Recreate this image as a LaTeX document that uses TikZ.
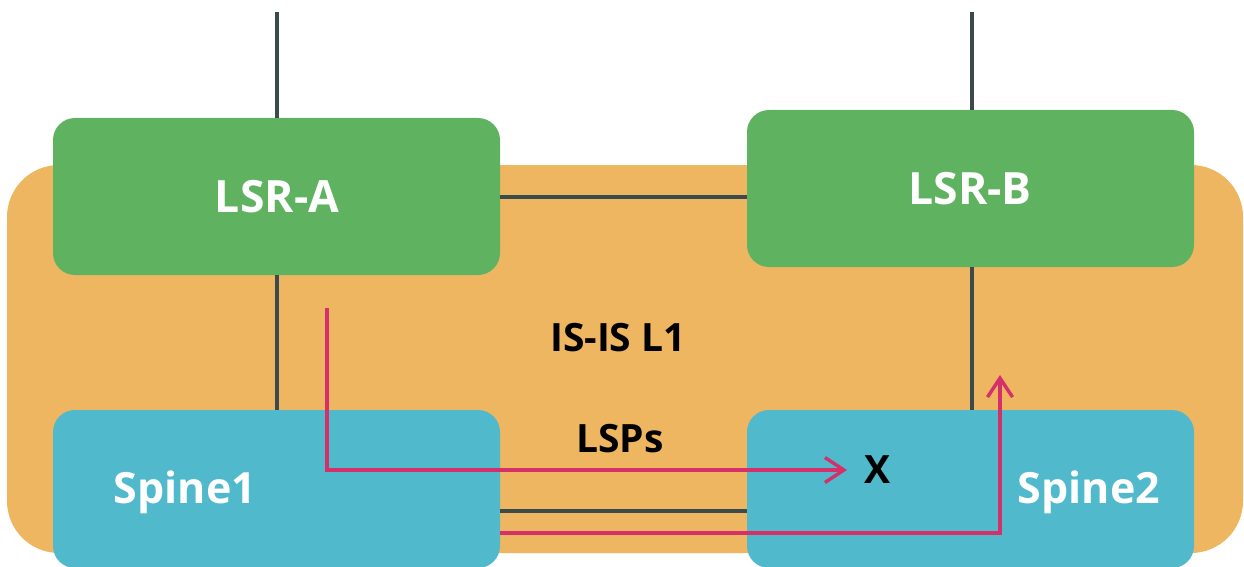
\documentclass[tikz,border=0pt]{standalone}
\usepackage{fontspec}
\setmainfont{Open Sans}
\usetikzlibrary{arrows.meta,calc}
\definecolor{orangebg}{HTML}{EEB660}
\definecolor{greenbox}{HTML}{5FB360}
\definecolor{bluebox}{HTML}{50B9CC}
\definecolor{linegray}{HTML}{3B4A4A}
\definecolor{pinkline}{HTML}{D6306A}
\tikzset{
  routerbox/.style={rectangle, rounded corners=22pt, fill=greenbox, inner sep=0pt,
    minimum width=447pt, minimum height=157pt},
  spinebox/.style={rectangle, rounded corners=22pt, fill=bluebox, inner sep=0pt,
    minimum width=447pt, minimum height=158pt},
  boxlabel/.style={text=white, font=\bfseries\fontsize{44.5}{50}\selectfont, anchor=base, inner sep=0pt},
  spinelabel/.style={text=white, font=\bfseries\fontsize{43}{48}\selectfont, anchor=base, inner sep=0pt},
  midlabel/.style={text=black, font=\bfseries\fontsize{39}{44}\selectfont, anchor=base, inner sep=0pt},
  link/.style={draw=linegray, line width=3.4pt},
  lsp/.style={draw=pinkline, line width=3.4pt, -{Straight Barb[length=19pt,width=25pt]}},
}
\begin{document}
\begin{tikzpicture}[x=1pt,y=-1pt]
\useasboundingbox (0,0) rectangle (1244,567);
\fill[white] (0,0) rectangle (1244,567);
% IS-IS L1 area
\fill[orangebg, rounded corners=52pt] (7,165) rectangle (1243,553);
% boxes
\node[routerbox] (lsra) at (276.5,196.5) {};
\node[routerbox] (lsrb) at (970.5,188.5) {};
\node[spinebox] (spine1) at (276.5,489) {};
\node[spinebox] (spine2) at (970.5,489) {};
% free ends
\coordinate (topa) at (277,12);
\coordinate (topb) at (972,12);
% links
\draw[link] (topa) -- (lsra.north -| topa);
\draw[link] (topb) -- (lsrb.north -| topb);
\draw[link] (lsra.south -| topa) -- (spine1.north -| topa);
\draw[link] (lsrb.south -| topb) -- (spine2.north -| topb);
\draw[link] (lsra.east |- 0,197) -- (lsrb.west |- 0,197);
\draw[link] (spine1.east |- 0,511) -- (spine2.west |- 0,511);
% LSP arrows
\coordinate (lspstart) at (327,308);
\coordinate (lspx) at (847,470);
\coordinate (lspup) at (1000,375);
\draw[lsp] (lspstart) |- (lspx);
\draw[lsp] (spine1.east |- 0,533) -| (lspup);
% labels
\node[boxlabel] (la) at (277,212) {LSR-A};
\node[boxlabel] (lb) at (970,204) {LSR-B};
\node[spinelabel] (ls1) at (185,503) {Spine1};
\node[spinelabel] (ls2) at (1089,503) {Spine2};
\node[midlabel] (isis) at (618,351) {IS-IS L1};
\node[midlabel] (lsps) at (620,452) {LSPs};
\node[midlabel] (xmark) at (877,483) {X};
\end{tikzpicture}
\end{document}
